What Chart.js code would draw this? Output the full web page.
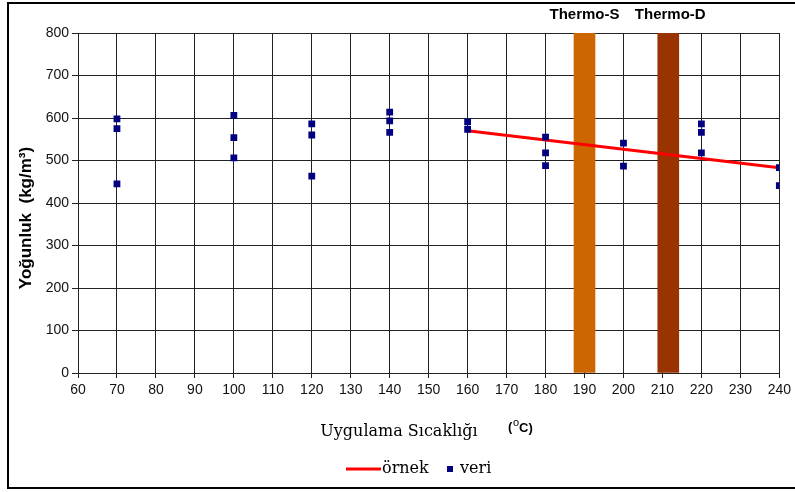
<!DOCTYPE html>
<html>
<head>
<meta charset="utf-8">
<script src="https://cdn.jsdelivr.net/npm/chart.js@4"></script>
<style>
  html, body { margin: 0; padding: 0; background: #fff; }
  #wrap { width: 795px; height: 492px; position: relative; }
</style>
</head>
<body>
<div id="wrap"><canvas id="chart" width="795" height="492"></canvas></div>
<script>
// Measured points (temperature °C, density kg/m3)
const veriX = [70, 70, 70, 100, 100, 100, 120, 120, 120, 140, 140, 140, 160, 160, 180, 180, 180, 200, 200, 220, 220, 220, 240, 240];
const veriY = [598, 575, 445, 606, 554, 506, 586, 560, 463, 614, 593, 566, 591, 573, 555, 518, 488, 541, 487, 586, 566, 518, 483, 441];

// Sample trend line
const ornekX = [160, 240];
const ornekY = [570, 483];

// Process markers
const thermoNames = ['Thermo-S', 'Thermo-D'];
const thermoX = [190, 211.5];
const thermoColors = ['#cc6600', '#993300'];

const ctx = document.getElementById('chart').getContext('2d');

const overlay = {
  id: 'overlay',
  afterDraw(chart) {
    const c = chart.ctx;
    const xs = chart.scales.x;
    c.save();
    // frame
    c.strokeStyle = '#000';
    c.lineWidth = 2;
    c.beginPath();
    c.moveTo(800, 3); c.lineTo(8, 3); c.lineTo(8, 488); c.lineTo(800, 488);
    c.stroke();

    // thermo labels
    c.fillStyle = '#000';
    c.font = 'bold 15px "Liberation Sans", Arial';
    c.textAlign = 'center';
    c.textBaseline = 'middle';
    thermoNames.forEach((n, i) => {
      c.fillText(n, xs.getPixelForValue(thermoX[i]) + (i === 0 ? 0 : 2), 15);
    });

    // y title
    c.save();
    c.translate(26, 218);
    c.rotate(-Math.PI / 2);
    c.font = 'bold 17px "Liberation Sans", Arial';
    c.fillText('Yoğunluk  (kg/m³)', 0, 0);
    c.restore();

    // x title
    c.font = '16px "DejaVu Serif"';
    c.textAlign = 'center';
    c.fillText('Uygulama Sıcaklığı', 399, 432);
    c.font = 'bold 13px "Liberation Sans", Arial';
    c.textAlign = 'left';
    c.fillText('(', 508, 427);
    c.font = '11px "Liberation Sans", Arial';
    c.fillText('o', 513, 423);
    c.font = 'bold 13px "Liberation Sans", Arial';
    c.fillText('C)', 519, 428);

    // legend
    c.strokeStyle = '#ff0000';
    c.lineWidth = 3;
    c.beginPath();
    c.moveTo(346, 469); c.lineTo(381, 469);
    c.stroke();
    c.font = '16px "DejaVu Serif"';
    c.fillStyle = '#000';
    c.fillText('örnek', 382, 469);
    c.fillStyle = '#000080';
    c.fillRect(447, 466, 6, 6);
    c.fillStyle = '#000';
    c.fillText('veri', 460, 469);
    c.restore();
  }
};

const thermoSets = thermoX.map((x, i) => ({
  type: 'bar',
  label: thermoNames[i],
  data: [{ x: x, y: 800 }],
  backgroundColor: thermoColors[i],
  barThickness: 21,
  grouped: false,
  order: 3
}));

new Chart(ctx, {
  type: 'scatter',
  data: {
    datasets: [
      ...thermoSets,
      {
        type: 'line',
        label: 'örnek',
        data: ornekX.map((x, i) => ({ x, y: ornekY[i] })),
        borderColor: '#ff0000',
        borderWidth: 3,
        pointRadius: 0,
        order: 2
      },
      {
        label: 'veri',
        data: veriX.map((x, i) => ({ x, y: veriY[i] })),
        backgroundColor: '#000080',
        borderColor: '#000080',
        pointStyle: 'rect',
        pointRadius: 4.8,
        borderWidth: 0,
        order: 1
      }
    ]
  },
  options: {
    responsive: false,
    animation: false,
    layout: { padding: { left: 18, right: 15, top: 33, bottom: 89 } },
    plugins: { legend: { display: false }, tooltip: { enabled: false } },
    scales: {
      x: {
        type: 'linear',
        min: 60, max: 240,
        offset: false,
        afterFit: s => { s.height = 30; },
        ticks: { stepSize: 10, color: '#111', font: { family: '"Liberation Sans", Arial', size: 14 }, padding: 4, maxRotation: 0 },
        grid: { color: '#222', lineWidth: 1, tickLength: 5, offset: false },
        border: { color: '#222' }
      },
      y: {
        min: 0, max: 800,
        afterFit: s => { s.width = 60; },
        ticks: { stepSize: 100, color: '#111', font: { family: '"Liberation Sans", Arial', size: 14 }, padding: 3 },
        grid: { color: '#222', lineWidth: 1, tickLength: 6 },
        border: { color: '#222' }
      }
    }
  },
  plugins: [overlay]
});
</script>
</body>
</html>
